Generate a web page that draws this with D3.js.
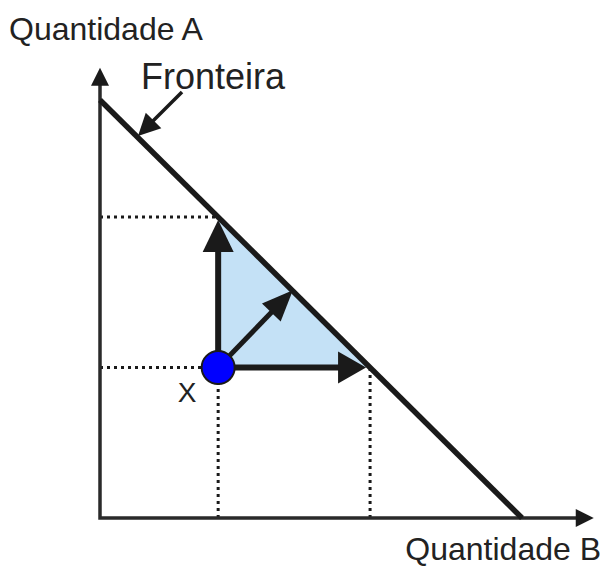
<!DOCTYPE html>
<html><head><meta charset="utf-8">
<script src="https://cdn.jsdelivr.net/npm/d3@7"></script>
<style>body{margin:0;background:#fff}svg{display:block}</style>
</head><body>
<script>
// Data (quantities, arbitrary units)
const frontierA = [0, 10];        // A-intercept point (B=0, A=10)
const frontierB = [10, 0];        // B-intercept point (B=10, A=0)
const pointX = [2.8, 3.6];        // [B, A]
const diagTip = [4.57, 5.45];     // diagonal improvement arrow tip
const axisMax = [11.7, 10.77];    // axis arrow tips [B, A]
const labels = {xAxis: "Quantidade B", yAxis: "Quantidade A", frontier: "Fronteira", point: "X"};

const W = 603, H = 568;
const x = d3.scaleLinear().domain([0, 10]).range([100, 522]);
const y = d3.scaleLinear().domain([0, 10]).range([518, 100]);

const svg = d3.select("body").append("svg").attr("width", W).attr("height", H);
const ink = "#1a1a1a";
const font = "'Liberation Sans', Arial, sans-serif";

function arrowHead(x1, y1, x2, y2, len, hw) {
  const a = Math.atan2(y2 - y1, x2 - x1);
  const bx = x2 - len * Math.cos(a), by = y2 - len * Math.sin(a);
  const px = -Math.sin(a) * hw, py = Math.cos(a) * hw;
  return `M${x2},${y2}L${bx + px},${by + py}L${bx - px},${by - py}Z`;
}
function arrow(x1, y1, x2, y2, w, len, hw) {
  const a = Math.atan2(y2 - y1, x2 - x1);
  const ex = x2 - (len * 0.8) * Math.cos(a), ey = y2 - (len * 0.8) * Math.sin(a);
  svg.append("line").attr("x1", x1).attr("y1", y1).attr("x2", ex).attr("y2", ey)
    .attr("stroke", ink).attr("stroke-width", w);
  svg.append("path").attr("d", arrowHead(x1, y1, x2, y2, len, hw)).attr("fill", ink);
}

// triangle
svg.append("path")
  .attr("d", d3.line()([[x(pointX[0]), y(pointX[1])], [x(pointX[0]), y(10 - pointX[0])], [x(10 - pointX[1]), y(pointX[1])]]) + "Z")
  .attr("fill", "#c4e1f6");

// dotted guides
const dots = [
  [[0, 10 - pointX[0]], [pointX[0], 10 - pointX[0]]],
  [[0, pointX[1]], [pointX[0], pointX[1]]],
  [[pointX[0], 0], [pointX[0], pointX[1]]],
  [[10 - pointX[1], 0], [10 - pointX[1], pointX[1]]]
];
dots.forEach(s => svg.append("line")
  .attr("x1", x(s[0][0])).attr("y1", y(s[0][1])).attr("x2", x(s[1][0])).attr("y2", y(s[1][1]))
  .attr("stroke", ink).attr("stroke-width", 3).attr("stroke-dasharray", "3,4"));

// axes
svg.append("path").attr("d", `M${x(0)},${y(axisMax[1]) + 14}L${x(0)},${y(0)}L${x(axisMax[0]) - 14},${y(0)}`)
  .attr("fill", "none").attr("stroke", "#2a2a2a").attr("stroke-width", 3.5);
svg.append("path").attr("d", arrowHead(x(0), y(0), x(0), y(axisMax[1]), 18, 9)).attr("fill", ink);
svg.append("path").attr("d", arrowHead(x(0), y(0), x(axisMax[0]), y(0), 18, 9)).attr("fill", ink);

// frontier
svg.append("line").attr("x1", x(frontierA[0])).attr("y1", y(frontierA[1]))
  .attr("x2", x(frontierB[0])).attr("y2", y(frontierB[1]))
  .attr("stroke", ink).attr("stroke-width", 5.5);

// improvement arrows
const px0 = x(pointX[0]), py0 = y(pointX[1]);
arrow(px0, py0, px0, y(10 - pointX[0]) + 3, 6, 32, 15.5);
arrow(px0, py0, x(10 - pointX[1]) - 4, py0, 6, 28, 16);
arrow(px0, py0, x(diagTip[0]), y(diagTip[1]), 5, 31, 13);

// point X
svg.append("circle").attr("cx", px0).attr("cy", py0).attr("r", 16.5)
  .attr("fill", "#0000ff").attr("stroke", ink).attr("stroke-width", 2);

// frontier pointer
arrow(182, 92, 138, 136, 3.5, 22, 11);

// labels
svg.append("text").attr("x", 9).attr("y", 40).text(labels.yAxis)
  .attr("font-family", font).attr("font-size", 32).attr("fill", "#222");
svg.append("text").attr("x", 601).attr("y", 560).attr("text-anchor", "end").text(labels.xAxis)
  .attr("font-family", font).attr("font-size", 32).attr("fill", "#222");
svg.append("text").attr("x", 141).attr("y", 89).text(labels.frontier)
  .attr("font-family", font).attr("font-size", 36).attr("fill", "#222");
svg.append("text").attr("x", 187).attr("y", 402).attr("text-anchor", "middle").text(labels.point)
  .attr("font-family", font).attr("font-size", 28).attr("fill", "#222");
</script>
</body></html>
